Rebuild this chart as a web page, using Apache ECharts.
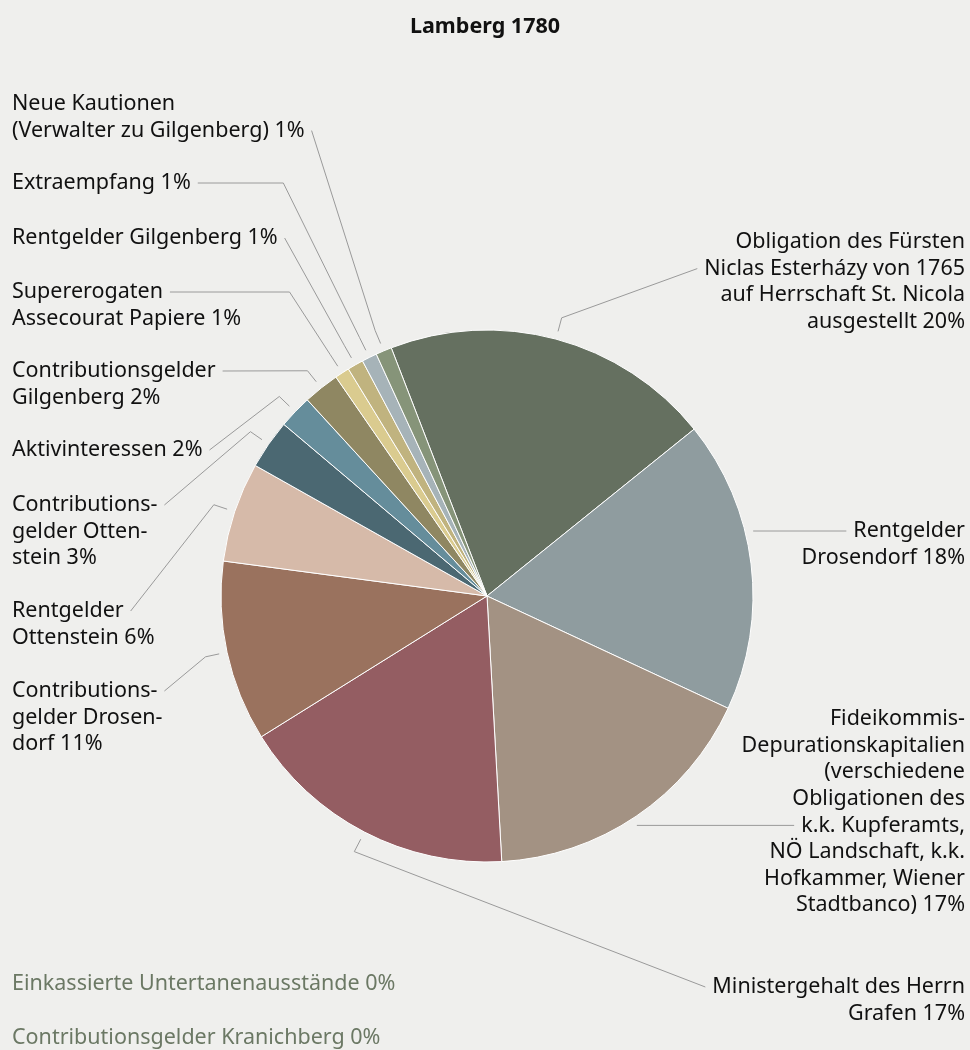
<!DOCTYPE html>
<html>
<head>
<meta charset="utf-8">
<script src="https://cdn.jsdelivr.net/npm/echarts@6/dist/echarts.min.js"></script>
<style>
html, body { margin: 0; padding: 0; background: #efefed; }
#chart { width: 970px; height: 1050px; }
</style>
</head>
<body>
<div id="chart"></div>
<script>
// slices, clockwise from the top-left
const names = [
	'Obligation des Fürsten Niclas Esterházy von 1765 auf Herrschaft St. Nicola ausgestellt',
	'Rentgelder Drosendorf',
	'Fideikommis-Depurationskapitalien (verschiedene Obligationen des k.k. Kupferamts, NÖ Landschaft, k.k. Hofkammer, Wiener Stadtbanco)',
	'Ministergehalt des Herrn Grafen',
	'Contributionsgelder Drosendorf',
	'Rentgelder Ottenstein',
	'Contributionsgelder Ottenstein',
	'Aktivinteressen',
	'Contributionsgelder Gilgenberg',
	'Supererogaten Assecourat Papiere',
	'Rentgelder Gilgenberg',
	'Extraempfang',
	'Neue Kautionen (Verwalter zu Gilgenberg)'
];
const values = [20.06, 17.72, 17.17, 17.0, 10.97, 6.06, 3.0, 2.03, 2.19, 0.89, 0.97, 0.92, 0.97];
const labelTexts = [
	'Obligation des Fürsten\nNiclas Esterházy von 1765\nauf Herrschaft St. Nicola\nausgestellt',
	'Rentgelder\nDrosendorf',
	'Fideikommis-\nDepurationskapitalien\n(verschiedene\nObligationen des\nk.k. Kupferamts,\nNÖ Landschaft, k.k.\nHofkammer, Wiener\nStadtbanco)',
	'Ministergehalt des Herrn\nGrafen',
	'Contributions-\ngelder Drosen-\ndorf',
	'Rentgelder\nOttenstein',
	'Contributions-\ngelder Otten-\nstein',
	'Aktivinteressen',
	'Contributionsgelder\nGilgenberg',
	'Supererogaten\nAssecourat Papiere',
	'Rentgelder Gilgenberg',
	'Extraempfang',
	'Neue Kautionen\n(Verwalter zu Gilgenberg)'
];
const colors = ['#657060', '#8f9c9f', '#a39283', '#945d62', '#9a725e', '#d6baa9', '#4b6872',
	'#658d9b', '#8f8762', '#dacb8f', '#c0b37f', '#a6b3b8', '#869479'];
const zeroNames = ['Einkassierte Untertanenausstände', 'Contributionsgelder Kranichberg'];
const zeroValues = [0, 0];

// label columns (like the original layout)
const labelSide = ['right', 'right', 'right', 'right', 'left', 'left', 'left', 'left', 'left', 'left', 'left', 'left', 'left'];
const labelFirstLineY = [242, 531, 719, 987, 691, 611, 505, 450, 371, 292, 238, 183, 104];
const labelAnchorLine = [1, 0, 4, 0, 0, 0, 0, 0, 0, 0, 0, 0, 1];

const FONT_FAMILY = '"Noto Sans", sans-serif';
const FONT_SIZE = 21.5;
const LINE_H = 26.6;
const CX = 487, CY = 596, R = 266;
const START = 111.1;

const total = values.reduce((a, b) => a + b, 0);
const pct = v => Math.round(v / total * 100);

// start / mid / end angle of every slice, clockwise from 12 o'clock
const sliceAngles = [];
let acc = 90 - START;
values.forEach(v => {
	const span = v / total * 360;
	sliceAngles.push([acc, acc + span / 2, acc + span]);
	acc += span;
});

const measure = document.createElement('canvas').getContext('2d');
measure.font = FONT_SIZE + 'px ' + FONT_FAMILY;

const chart = echarts.init(document.getElementById('chart'));
chart.setOption({
	backgroundColor: '#efefed',
	animation: false,
	title: {
		text: 'Lamberg 1780',
		left: 'center',
		top: 11,
		textStyle: { fontSize: FONT_SIZE, fontWeight: 'bold', color: '#111', fontFamily: FONT_FAMILY }
	},
	graphic: zeroNames.map((n, i) => ({
		type: 'text',
		x: 12,
		y: 984 + i * 54,
		style: {
			text: n + ' ' + pct(zeroValues[i]) + '%',
			fill: '#6b7864',
			font: FONT_SIZE + 'px ' + FONT_FAMILY,
			verticalAlign: 'middle'
		}
	})),
	series: [{
		type: 'pie',
		center: [CX, CY],
		radius: R,
		startAngle: START,
		clockwise: true,
		avoidLabelOverlap: false,
		itemStyle: { borderColor: '#ffffff', borderWidth: 1 },
		label: {
			show: true,
			position: 'outer',
			color: '#111',
			fontSize: FONT_SIZE,
			fontFamily: FONT_FAMILY,
			lineHeight: LINE_H,
			overflow: 'none',
			formatter: p => labelTexts[p.dataIndex] + ' ' + pct(p.value) + '%'
		},
		labelLine: { show: true, lineStyle: { color: '#9a9a9a', width: 1 } },
		labelLayout: function (p) {
			const i = p.dataIndex;
			const lines = (labelTexts[i] + ' ' + pct(values[i]) + '%').split('\n');
			const left = labelSide[i] === 'left';
			const x = left ? 12 : 965;
			const ay = labelFirstLineY[i] + labelAnchorLine[i] * LINE_H;
			const w = measure.measureText(lines[labelAnchorLine[i]]).width;
			const ax = left ? x + w + 7 : x - w - 7;
			const [a0, am, a1] = sliceAngles[i];
			let pts;
			// right column: go straight across if the label line meets its own slice
			const h = ay - CY;
			if (!left && Math.abs(h) < R + 8) {
				const ang = 90 + Math.asin(h / (R + 8)) * 180 / Math.PI;
				if (ang > a0 + 2 && ang < a1 - 2) {
					const tx = CX + Math.sqrt((R + 8) * (R + 8) - h * h);
					pts = [[tx, ay], [ax, ay]];
				}
			}
			if (!pts) {
				const a = am * Math.PI / 180;
				const dx = Math.sin(a), dy = -Math.cos(a);
				const touch = [CX + dx * (R + 8), CY + dy * (R + 8)];
				const brk = [CX + dx * (R + 22), CY + dy * (R + 22)];
				pts = [touch, brk];
				// horizontal crook only for the left column
				const t = h / dy;
				if (left && t > 0) {
					const crookX = CX + dx * t;
					if (crookX >= ax + 12 && crookX <= brk[0]) {
						pts.push([crookX, ay]);
					}
				}
				pts.push([ax, ay]);
			}
			return {
				x: x,
				y: labelFirstLineY[i] - LINE_H / 2,
				align: left ? 'left' : 'right',
				verticalAlign: 'top',
				labelLinePoints: pts
			};
		},
		data: names.map((n, i) => ({ name: n, value: values[i], itemStyle: { color: colors[i] } }))
	}]
});
</script>
</body>
</html>
